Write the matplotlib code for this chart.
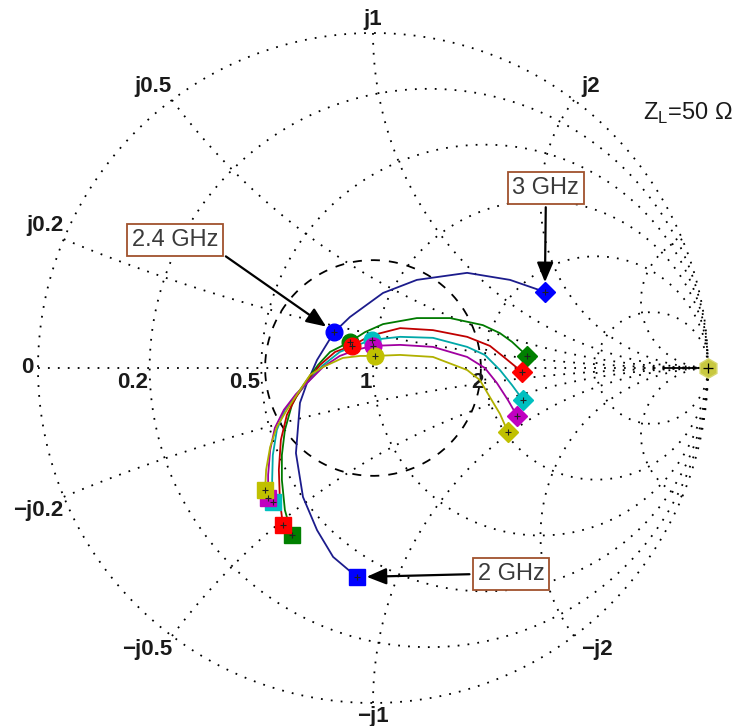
import numpy as np
import matplotlib.pyplot as plt

plt.rcParams['font.family'] = ['Liberation Sans', 'DejaVu Sans']
plt.rcParams['mathtext.fontset'] = 'custom'
plt.rcParams['mathtext.rm'] = 'Liberation Sans'

# grid circles / arcs of the chart
grid_values = [0.2, 0.5, 1, 2, 5]
real_labels = [0.2, 0.5, 1, 2]
imag_labels = [0.2, 0.5, 1, 2]
vswr_radius = 0.322

# reflection coefficient traces, 2 GHz -> 3 GHz
blue_re = [-0.048, -0.119, -0.167, -0.209, -0.230, -0.218, -0.197, -0.167, -0.116,
           -0.069, 0.030, 0.131, 0.281, 0.409, 0.513]
blue_im = [-0.624, -0.564, -0.484, -0.385, -0.254, -0.104, -0.045, 0.024, 0.107,
           0.152, 0.224, 0.263, 0.284, 0.263, 0.227]
blue_mid = 8

green_re = [-0.242, -0.263, -0.272, -0.272, -0.263, -0.242, -0.218, -0.197, -0.164, -0.128,
            -0.069, -0.024, 0.030, 0.131, 0.230, 0.328, 0.379, 0.415, 0.460]
green_im = [-0.499, -0.424, -0.334, -0.260, -0.185, -0.110, -0.066, -0.036, 0.009, 0.048,
            0.078, 0.107, 0.131, 0.149, 0.149, 0.128, 0.104, 0.078, 0.036]
green_mid = 10

red_re = [-0.269, -0.278, -0.281, -0.275, -0.257, -0.230, -0.197, -0.158, -0.113,
          -0.063, -0.009, 0.081, 0.179, 0.281, 0.349, 0.394, 0.445]
red_im = [-0.469, -0.394, -0.304, -0.215, -0.140, -0.087, -0.042, 0.009, 0.048,
          0.066, 0.096, 0.119, 0.113, 0.093, 0.066, 0.030, -0.012]
red_mid = 9

cyan_re = [-0.299, -0.301, -0.299, -0.287, -0.263, -0.230, -0.197, -0.152, -0.099,
           -0.054, -0.003, 0.081, 0.179, 0.281, 0.334, 0.379, 0.415, 0.448]
cyan_im = [-0.400, -0.334, -0.260, -0.185, -0.125, -0.081, -0.045, 0.006, 0.048,
           0.066, 0.084, 0.093, 0.090, 0.063, 0.039, -0.006, -0.051, -0.096]
cyan_mid = 10

magenta_re = [-0.313, -0.313, -0.307, -0.293, -0.266, -0.230, -0.197, -0.149, -0.099,
              -0.051, 0.000, 0.081, 0.179, 0.281, 0.334, 0.370, 0.403, 0.430]
magenta_im = [-0.388, -0.319, -0.245, -0.179, -0.125, -0.078, -0.045, 0.003, 0.036,
              0.054, 0.066, 0.069, 0.063, 0.033, 0.000, -0.045, -0.096, -0.143]
magenta_mid = 10

yellow_re = [-0.322, -0.319, -0.307, -0.287, -0.257, -0.218, -0.188, -0.149, -0.090,
             -0.039, 0.006, 0.081, 0.179, 0.281, 0.319, 0.349, 0.379, 0.403]
yellow_im = [-0.364, -0.304, -0.236, -0.176, -0.125, -0.066, -0.021, 0.003, 0.030,
             0.036, 0.036, 0.039, 0.033, -0.006, -0.036, -0.087, -0.137, -0.191]
yellow_mid = 10

open_re = [0.872, 1.0]
open_im = [0.0, 0.0]

traces = [
    (blue_re, blue_im, blue_mid, '#1c1c8c', '#0000ff'),
    (green_re, green_im, green_mid, '#007a00', '#008000'),
    (red_re, red_im, red_mid, '#c00000', '#ff0000'),
    (cyan_re, cyan_im, cyan_mid, '#00a8a8', '#00c0c0'),
    (magenta_re, magenta_im, magenta_mid, '#a000a0', '#c000c0'),
    (yellow_re, yellow_im, yellow_mid, '#b0b000', '#c0c000'),
]


def gamma(z):
    return (z - 1) / (z + 1)


fig = plt.figure(figsize=(7.37, 7.26), dpi=100)
ax = fig.add_axes([0, 0, 1, 1])
ax.set_xlim(-1.1134, 1.0866)
ax.set_ylim(-1.0687, 1.0985)
ax.axis('off')

dots = dict(color='black', lw=1.3, ls=(0, (1, 4.5)), zorder=1)

# outer circle and constant resistance circles
sweep = np.concatenate([-np.logspace(3, -3, 600), np.logspace(-3, 3, 600)])
for r in [0] + grid_values:
    g = gamma(r + 1j * sweep)
    ax.plot(g.real, g.imag, **dots)

# constant reactance arcs
rs = np.concatenate([[0], np.logspace(-4, 3, 600)])
for x in grid_values:
    for sgn in (1, -1):
        g = gamma(rs + 1j * sgn * x)
        ax.plot(g.real, g.imag, **dots)
ax.plot([-1, 1], [0, 0], **dots)

# VSWR circle
th = np.linspace(0, 2 * np.pi, 400)
ax.plot(vswr_radius * np.cos(th), vswr_radius * np.sin(th), color='black',
        lw=1.3, ls=(0, (5, 5)), zorder=2)

# axis labels
lab = dict(fontsize=16, fontweight='bold', color='#1a1a1a')
ax.annotate('0', (-1, 0), xytext=(-3, 0), textcoords='offset points',
            ha='right', va='center', **lab)
for r in real_labels:
    ax.annotate(f'{r:g}', (gamma(r), 0), xytext=(-1, -3), textcoords='offset points',
                ha='right', va='top', **lab)
for x in imag_labels:
    for sgn in (1, -1):
        g = gamma(1j * sgn * x)
        if g.real < -0.1:
            ha = 'right'
        elif g.real > 0.1:
            ha = 'left'
        else:
            ha = 'center'
        va = 'bottom' if sgn > 0 else 'top'
        txt = ('j' if sgn > 0 else '\u2212j') + f'{x:g}'
        dx = 5 if ha == 'left' else 0
        ax.annotate(txt, (g.real, g.imag), xytext=(dx, sgn * 2),
                    textcoords='offset points', ha=ha, va=va, **lab)

# traces with 2 GHz / 2.4 GHz / 3 GHz markers
for re, im, mid, lc, mc in traces:
    ax.plot(re, im, color=lc, lw=1.3, zorder=3)
    ax.plot(re[0], im[0], 's', ms=12, color=mc, mec=mc, zorder=4)
    ax.plot(re[mid], im[mid], 'o', ms=12, color=mc, mec=mc, zorder=4)
    ax.plot(re[-1], im[-1], 'D', ms=10, color=mc, mec=mc, zorder=4)
    ax.plot([re[0], re[mid], re[-1]], [im[0], im[mid], im[-1]], '+', ms=5,
            mew=0.8, color='#202020', zorder=5)

ax.plot(open_re, open_im, color='black', lw=1.3, zorder=3)
ax.plot(open_re[-1], open_im[-1], 'h', ms=14, color='#c8c840', mec='#d8d870', zorder=4)
ax.plot(open_re[-1], open_im[-1], '+', ms=7, mew=0.9, color='black', zorder=5)

# frequency callouts
box = dict(boxstyle='square,pad=0.2', fc='white', ec='#a0522d', lw=1.3)
arrow = dict(arrowstyle='-|>,head_length=0.6,head_width=0.25', color='black', lw=1.6,
             mutation_scale=20, shrinkB=7)
ax.annotate('2.4 GHz', (blue_re[blue_mid], blue_im[blue_mid]), xytext=(-0.591, 0.382),
            ha='center', va='center', fontsize=17, color='#3a3a3a', bbox=box,
            arrowprops=dict(arrow, relpos=(1, 0)), zorder=6)
ax.annotate('3 GHz', (blue_re[-1], blue_im[-1]), xytext=(0.516, 0.537),
            ha='center', va='center', fontsize=17, color='#3a3a3a', bbox=box,
            arrowprops=dict(arrow, relpos=(0.5, 0)), zorder=6)
ax.annotate('2 GHz', (blue_re[0], blue_im[0]), xytext=(0.412, -0.615),
            ha='center', va='center', fontsize=17, color='#3a3a3a', bbox=box,
            arrowprops=dict(arrow, relpos=(0, 0.5)), zorder=6)

ax.text(0.806, 0.740, r'Z$_\mathrm{L}$=50 Ω', fontsize=17, color='#1a1a1a',
        ha='left', va='baseline')

fig.savefig('out.png', dpi=100)
